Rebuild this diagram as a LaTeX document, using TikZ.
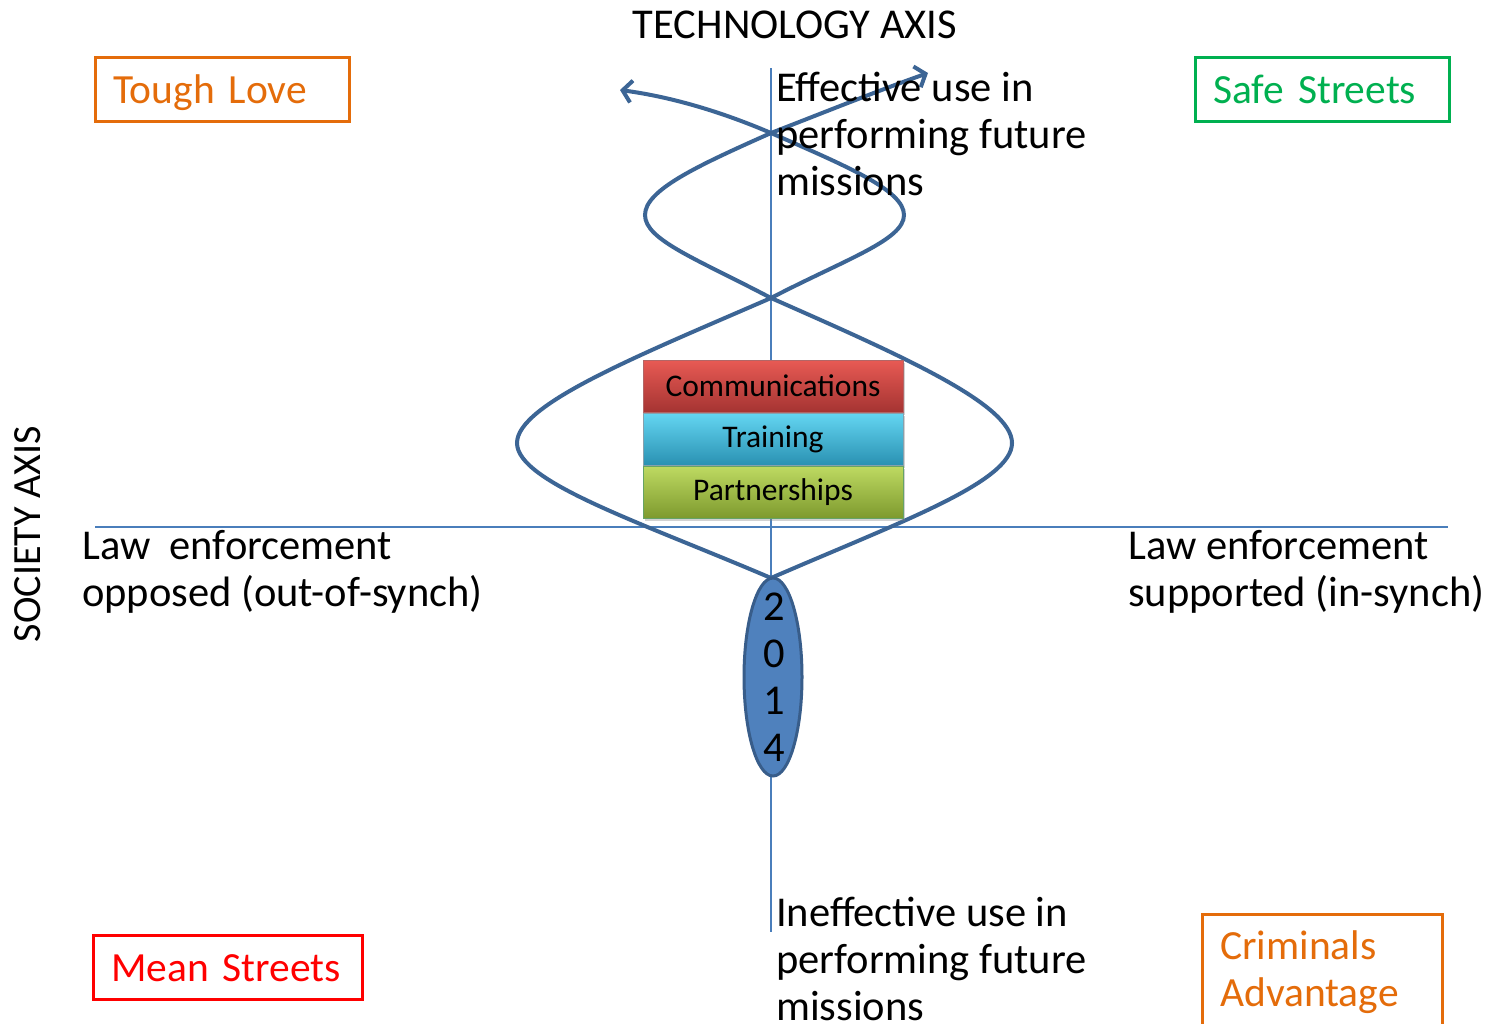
\documentclass[tikz,border=0pt]{standalone}
\usepackage{fontspec}
\setmainfont{Carlito}
\usetikzlibrary{shapes.geometric,arrows.meta,shadows}
\definecolor{axisblue}{HTML}{4A7EBB}
\definecolor{helix}{HTML}{3C6595}
\definecolor{toughc}{HTML}{E46C0A}
\definecolor{safec}{HTML}{00B050}
\definecolor{meanc}{HTML}{FF0000}
\definecolor{crimc}{HTML}{E46C0A}
\definecolor{yrfill}{HTML}{4F81BD}
\definecolor{yrdraw}{HTML}{385D8A}
\begin{document}
\begin{tikzpicture}[x=1pt,y=-1pt,
  axisline/.style={draw=axisblue, line width=2pt},
  helixline/.style={draw=helix, line width=4pt, line cap=round},
  tipv/.style={-{Straight Barb[length=9pt,width=22pt]}},
  lbl/.style={font=\fontsize{42.5}{47}\selectfont, align=left, inner sep=0pt, anchor=base west},
  qbox/.style={draw, line width=2.5pt, anchor=north west, inner xsep=18pt, inner ysep=0pt,
     minimum height=64pt, align=left, font=\fontsize{41.5}{47}\selectfont},
  qfix/.style={text height=33pt, text depth=5pt},
  tier/.style={minimum width=260pt, minimum height=52pt, inner sep=0pt,
     font=\fontsize{31.5}{36}\selectfont, drop shadow={shadow xshift=2pt, shadow yshift=-3pt, opacity=0.35}},
  axlbl/.style={inner sep=0pt}
]
\useasboundingbox (0,0) rectangle (1490,1023);
\fill[white] (0,0) rectangle (1490,1023);

% axes
\coordinate (vtop) at (771,68);
\coordinate (vbot) at (771,932);
\coordinate (hl) at (95,527);
\coordinate (hr) at (1448,527);
\draw[axisline] (vtop) -- (vbot);
\draw[axisline] (hl) -- (hr);

% helix
\coordinate (bot) at (771,578);
\coordinate (x1) at (771,298);
\coordinate (x2) at (771,133);
\coordinate (tl) at (620,90);
\coordinate (tr) at (928,73);
\draw[helixline, tipv] (bot) .. controls (640,522) and (517,482) .. (517,443)
  .. controls (517,404) and (640,355) .. (x1)
  .. controls (846,259) and (904,240) .. (904,215)
  .. controls (904,190) and (846,166) .. (x2)
  .. controls (722,112) and (672,97) .. (tl);
\draw[helixline, tipv] (bot) .. controls (900,522) and (1012,482) .. (1012,443)
  .. controls (1012,404) and (900,355) .. (x1)
  .. controls (697,259) and (645,240) .. (645,215)
  .. controls (645,190) and (697,166) .. (x2)
  .. controls (830,110) and (880,90) .. (tr);

% tiers
\node[tier, draw=red!50!black!60, top color={rgb,255:red,232;green,90;blue,84}, middle color={rgb,255:red,208;green,66;blue,60}, bottom color={rgb,255:red,165;green,52;blue,50}] (comm) at (773,386) {Communications};
\node[tier, draw=cyan!40!black!60, top color={rgb,255:red,100;green,214;blue,242}, middle color={rgb,255:red,56;green,180;blue,218}, bottom color={rgb,255:red,42;green,145;blue,178}] (train) at (773,439) {Training};
\node[tier, draw=green!40!black!60, top color={rgb,255:red,190;green,218;blue,98}, middle color={rgb,255:red,157;green,191;blue,62}, bottom color={rgb,255:red,126;green,154;blue,46}] (part) at (773,492) {Partnerships};

% year ellipse
\node[ellipse, fill=yrfill, draw=yrdraw, line width=3pt, minimum width=58pt, minimum height=198pt, inner sep=0pt] (yr) at (773,677) {};
\node[align=center, inner sep=0pt, font=\fontsize{42.5}{47}\selectfont] (yrtxt) at ([xshift=1pt]yr.center) {2\\0\\1\\4};

% axis labels
\node[axlbl, font=\fontsize{42.5}{47}\selectfont] (tech) at (795,25) {TECHNOLOGY AXIS};
\node[axlbl, font=\fontsize{40}{47}\selectfont, rotate=90] (soc) at (28,534) {SOCIETY AXIS};

% quadrant boxes
\node[qbox, qfix, draw=toughc, text=toughc, text width=218pt] (tough) at (94,56) {Tough Love};
\node[qbox, qfix, draw=safec, text=safec, text width=218pt] (safe) at (1194,56) {Safe Streets};
\node[qbox, qfix, draw=meanc, text=meanc, text width=233pt] (mean) at (92,934) {Mean Streets};
\node[qbox, draw=crimc, text=crimc, text width=204pt, minimum height=0pt, inner ysep=16pt] (crim) at (1201,913) {Criminals\\Advantage};

% texts
\node[lbl] (eff) at (776,195) {Effective use in\\performing future\\missions};
\node[lbl] (ineff) at (776,1020) {Ineffective use in\\performing future\\missions};
\node[lbl] (opp) at (82,606) {Law\ \ enforcement\\opposed (out-of-synch)};
\node[lbl] (supp) at (1128,606) {Law enforcement\\supported (in-synch)};
\end{tikzpicture}
\end{document}
